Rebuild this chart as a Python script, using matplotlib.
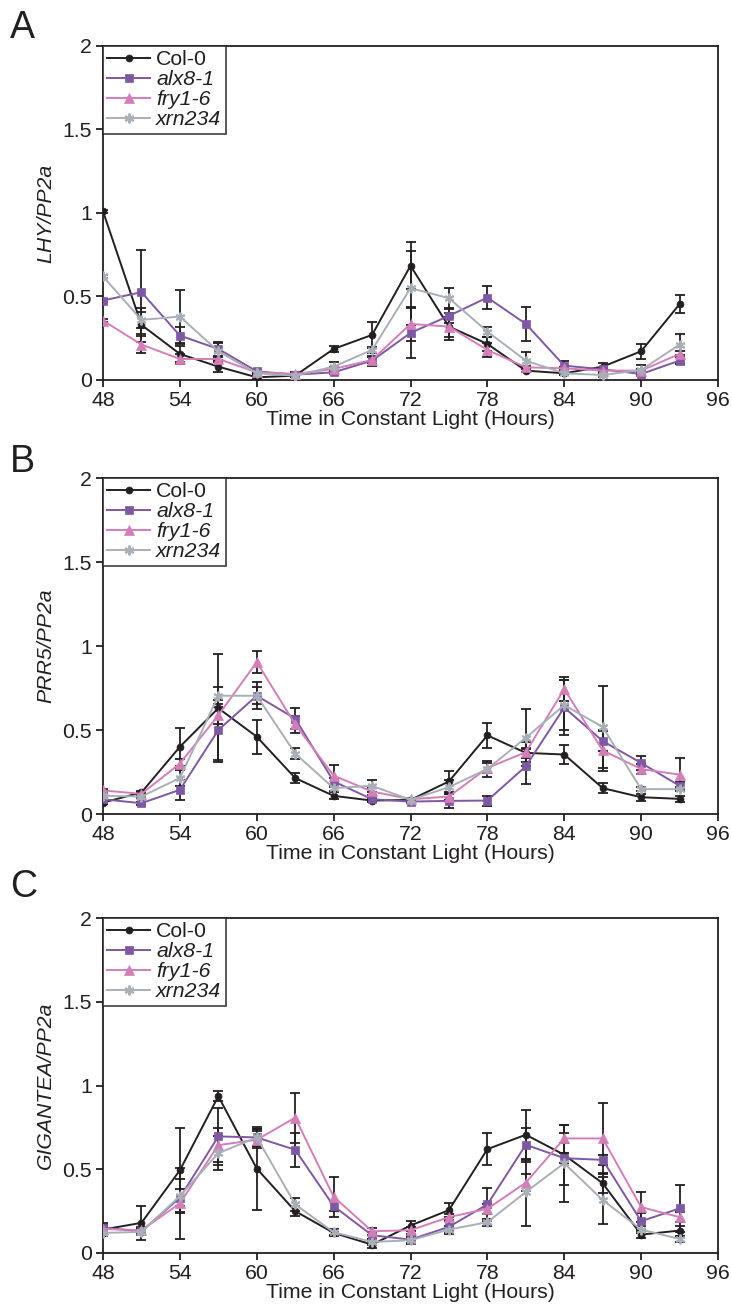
import matplotlib
matplotlib.use('Agg')
import matplotlib.pyplot as plt

plt.rcParams['font.family'] = ['Liberation Sans', 'DejaVu Sans']
TXT = '#231f20'
plt.rcParams['text.color'] = TXT
plt.rcParams['axes.labelcolor'] = TXT
plt.rcParams['xtick.color'] = TXT
plt.rcParams['ytick.color'] = TXT

hours = [48, 51, 54, 57, 60, 63, 66, 69, 72, 75, 78, 81, 84, 87, 90, 93]
genotypes = ['Col-0', 'alx8-1', 'fry1-6', 'xrn234']

# LHY / PP2a
lhy_col = [1.01, 0.33, 0.156, 0.08, 0.016, 0.026, 0.186, 0.27, 0.684, 0.32, 0.216, 0.056, 0.04, 0.08, 0.172, 0.454]
lhy_alx = [0.476, 0.526, 0.266, 0.186, 0.052, 0.032, 0.046, 0.116, 0.282, 0.384, 0.494, 0.336, 0.086, 0.064, 0.036, 0.116]
lhy_fry = [0.356, 0.212, 0.126, 0.126, 0.046, 0.036, 0.066, 0.12, 0.336, 0.32, 0.18, 0.076, 0.07, 0.056, 0.056, 0.156]
lhy_xrn = [0.62, 0.36, 0.38, 0.172, 0.04, 0.026, 0.08, 0.18, 0.55, 0.49, 0.29, 0.116, 0.04, 0.03, 0.06, 0.212]
lhy_col_err = [0.01, 0.1, 0.05, 0.03, 0.01, 0.01, 0.02, 0.076, 0.14, 0.06, 0.04, 0.01, 0.01, 0.02, 0.044, 0.052]
lhy_alx_err = [0.01, 0.25, 0.05, 0.04, 0.01, 0.01, 0.01, 0.03, 0.15, 0.04, 0.07, 0.1, 0.03, 0.01, 0.01, 0.02]
lhy_fry_err = [0.01, 0.05, 0.03, 0.01, 0.01, 0.01, 0.01, 0.02, 0.1, 0.08, 0.04, 0.01, 0.01, 0.01, 0.01, 0.02]
lhy_xrn_err = [0.01, 0.05, 0.16, 0.05, 0.01, 0.01, 0.03, 0.02, 0.22, 0.06, 0.03, 0.05, 0.01, 0.01, 0.03, 0.064]

# PRR5 / PP2a
prr_col = [0.068, 0.128, 0.40, 0.63, 0.46, 0.214, 0.108, 0.08, 0.084, 0.194, 0.468, 0.364, 0.354, 0.154, 0.10, 0.09]
prr_alx = [0.088, 0.064, 0.144, 0.50, 0.704, 0.568, 0.194, 0.088, 0.074, 0.078, 0.08, 0.284, 0.634, 0.434, 0.304, 0.168]
prr_fry = [0.14, 0.12, 0.30, 0.588, 0.904, 0.534, 0.228, 0.134, 0.088, 0.104, 0.274, 0.368, 0.744, 0.378, 0.268, 0.234]
prr_xrn = [0.108, 0.104, 0.214, 0.704, 0.704, 0.36, 0.154, 0.168, 0.084, 0.16, 0.268, 0.454, 0.648, 0.518, 0.148, 0.148]
prr_col_err = [0.01, 0.01, 0.114, 0.32, 0.1, 0.03, 0.02, 0.01, 0.01, 0.064, 0.076, 0.03, 0.058, 0.03, 0.02, 0.02]
prr_alx_err = [0.01, 0.01, 0.06, 0.18, 0.08, 0.064, 0.02, 0.01, 0.01, 0.04, 0.03, 0.104, 0.164, 0.06, 0.04, 0.02]
prr_fry_err = [0.01, 0.01, 0.03, 0.05, 0.064, 0.05, 0.066, 0.02, 0.01, 0.02, 0.03, 0.06, 0.07, 0.12, 0.03, 0.1]
prr_xrn_err = [0.01, 0.01, 0.05, 0.05, 0.05, 0.03, 0.02, 0.036, 0.01, 0.04, 0.05, 0.17, 0.15, 0.246, 0.01, 0.01]

# GIGANTEA / PP2a
gi_col = [0.14, 0.18, 0.494, 0.936, 0.504, 0.25, 0.12, 0.05, 0.164, 0.256, 0.62, 0.706, 0.586, 0.416, 0.11, 0.134]
gi_alx = [0.15, 0.13, 0.33, 0.696, 0.69, 0.616, 0.28, 0.106, 0.08, 0.156, 0.29, 0.646, 0.566, 0.556, 0.19, 0.266]
gi_fry = [0.144, 0.136, 0.296, 0.644, 0.676, 0.808, 0.336, 0.13, 0.136, 0.214, 0.264, 0.42, 0.684, 0.684, 0.274, 0.214]
gi_xrn = [0.12, 0.126, 0.34, 0.596, 0.69, 0.29, 0.124, 0.066, 0.076, 0.14, 0.184, 0.364, 0.536, 0.316, 0.14, 0.084]
gi_col_err = [0.04, 0.1, 0.25, 0.03, 0.25, 0.03, 0.01, 0.02, 0.03, 0.04, 0.094, 0.148, 0.18, 0.06, 0.02, 0.03]
gi_alx_err = [0.02, 0.02, 0.05, 0.17, 0.05, 0.1, 0.03, 0.02, 0.02, 0.04, 0.1, 0.1, 0.03, 0.03, 0.05, 0.14]
gi_fry_err = [0.02, 0.02, 0.21, 0.1, 0.05, 0.15, 0.12, 0.02, 0.02, 0.02, 0.03, 0.05, 0.03, 0.21, 0.09, 0.03]
gi_xrn_err = [0.02, 0.02, 0.1, 0.1, 0.05, 0.04, 0.02, 0.02, 0.02, 0.02, 0.02, 0.2, 0.23, 0.14, 0.02, 0.02]

panels = [
    ('A', 'LHY/PP2a', [lhy_col, lhy_alx, lhy_fry, lhy_xrn],
     [lhy_col_err, lhy_alx_err, lhy_fry_err, lhy_xrn_err]),
    ('B', 'PRR5/PP2a', [prr_col, prr_alx, prr_fry, prr_xrn],
     [prr_col_err, prr_alx_err, prr_fry_err, prr_xrn_err]),
    ('C', 'GIGANTEA/PP2a', [gi_col, gi_alx, gi_fry, gi_xrn],
     [gi_col_err, gi_alx_err, gi_fry_err, gi_xrn_err]),
]

colors = ['#231f20', '#7e57a5', '#d57db8', '#a9afb7']
markers = ['o', 's', '^', (6, 2, 0)]
msizes = [5, 5.5, 6.5, 7]
FS = 15.3

W, H = 732, 1312
fig = plt.figure(figsize=(W / 100, H / 100), dpi=100)

# pixel boxes (left, top, right, bottom) for each panel
boxes = [(103, 46, 718, 380), (103, 478, 718, 814), (103, 918, 718, 1253)]
letter_y = [38, 472, 897]

for (letter, ylab, series, errs), (l, t, r, b), ly in zip(panels, boxes, letter_y):
    ax = fig.add_axes([l / W, 1 - b / H, (r - l) / W, (b - t) / H])
    for vals, err in zip(series, errs):
        ax.errorbar(hours, vals, yerr=err, fmt='none', ecolor=TXT,
                    elinewidth=1.3, capsize=3.5, capthick=1.3, zorder=2)
    for name, vals, c, m, ms in zip(genotypes, series, colors, markers, msizes):
        ax.plot(hours, vals, color=c, marker=m, markersize=ms, lw=1.4,
                markeredgewidth=1.4 if m == (6, 2, 0) else 0.5,
                markeredgecolor=c, label=name, zorder=3)

    ax.set_xlim(48, 96)
    ax.set_ylim(0, 2)
    ax.set_xticks(range(48, 97, 6))
    ax.set_yticks([0, 0.5, 1, 1.5, 2])
    ax.set_yticklabels(['0', '0.5', '1', '1.5', '2'])
    ax.tick_params(direction='out', length=5, width=1.3, labelsize=FS, pad=3)
    for sp in ax.spines.values():
        sp.set_linewidth(1.3)
        sp.set_color(TXT)
    ax.set_xlabel('Time in Constant Light (Hours)', fontsize=FS, labelpad=0)
    ax.set_ylabel(ylab, fontsize=FS, style='italic', labelpad=5)

    leg = ax.legend(loc='upper left', fontsize=FS, frameon=True, fancybox=False,
                    borderaxespad=0, handlelength=2.0, handletextpad=0.3,
                    labelspacing=0.05, borderpad=0.2)
    leg.get_frame().set_edgecolor(TXT)
    leg.get_frame().set_linewidth(1.3)
    for txt in leg.get_texts()[1:]:
        txt.set_style('italic')

    fig.text(10 / W, 1 - ly / H, letter, fontsize=27, va='baseline', ha='left')

fig.savefig('out.png', dpi=100)
